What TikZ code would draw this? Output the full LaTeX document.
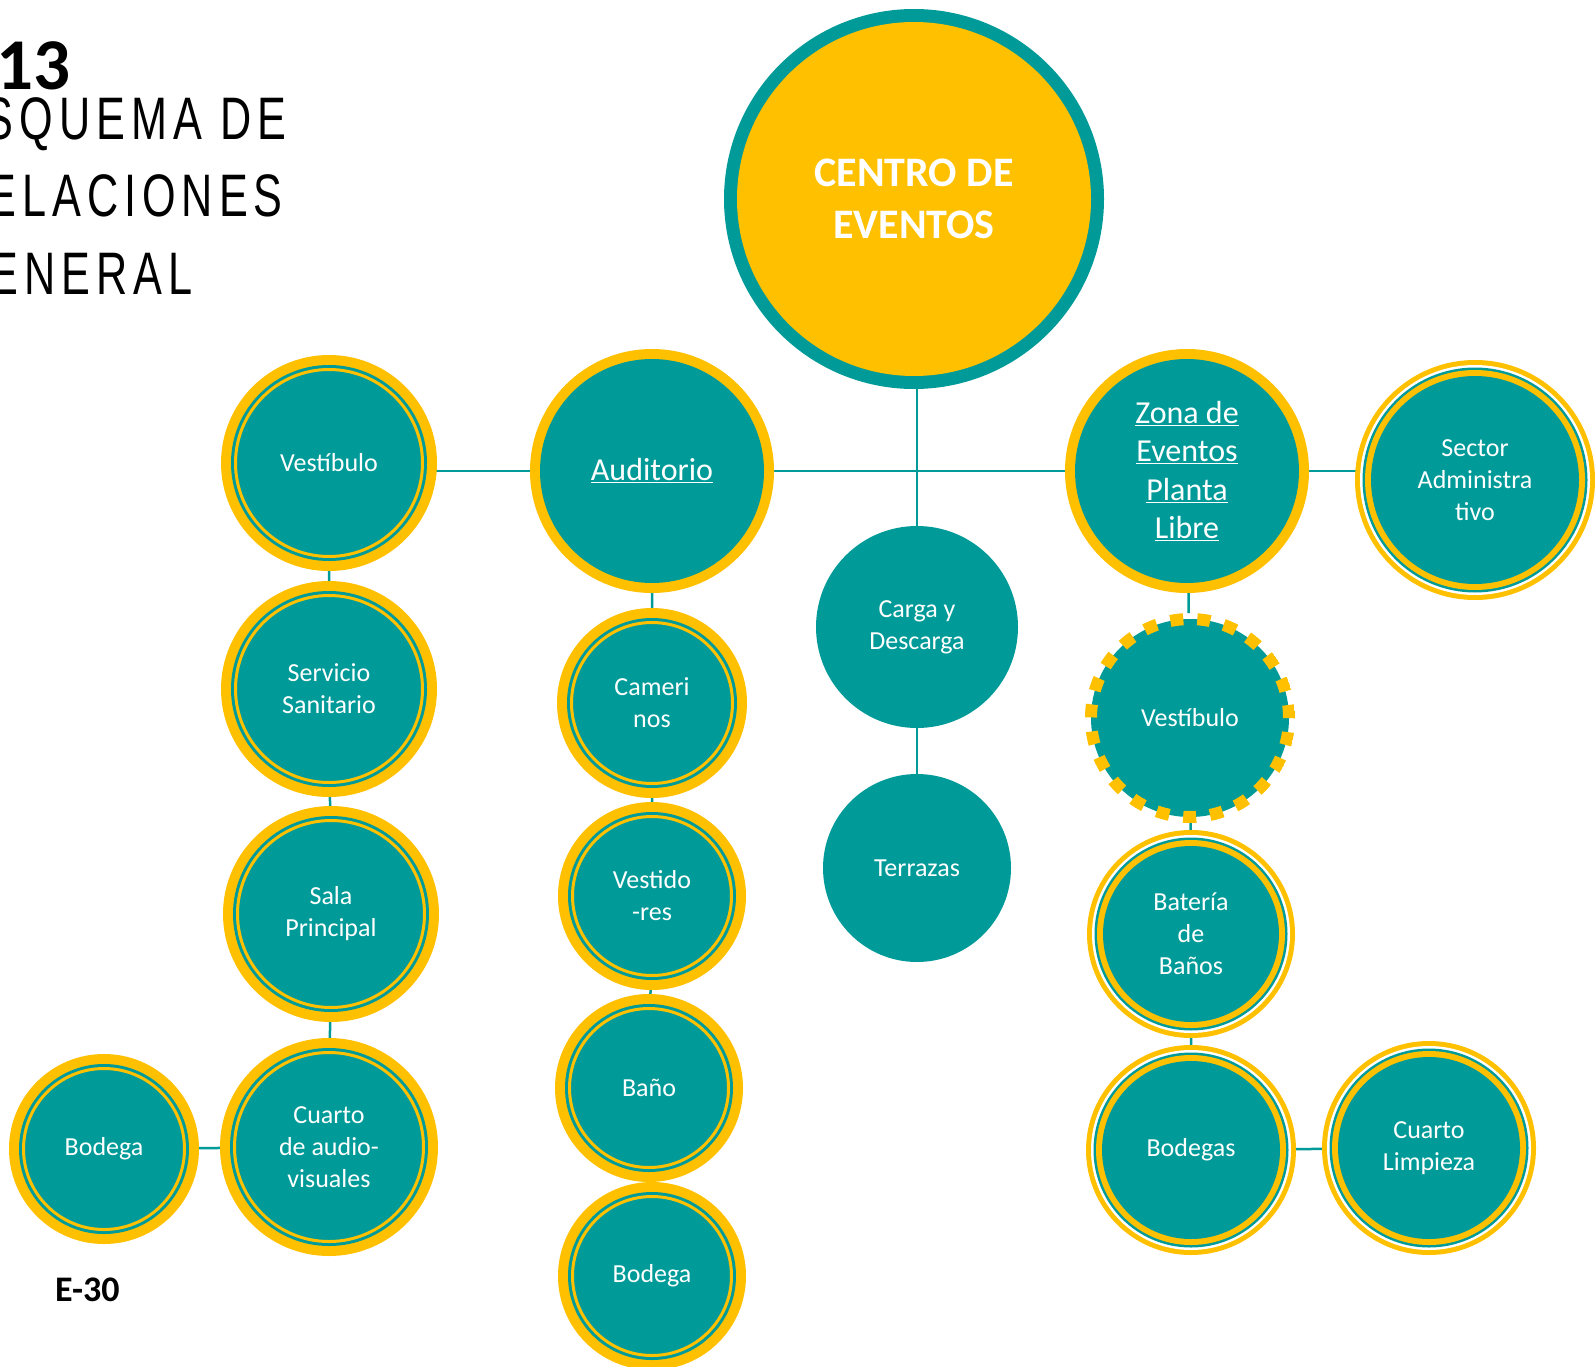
\documentclass[tikz,border=0pt]{standalone}
\usepackage{fontspec}
\setmainfont{Carlito}
\newfontfamily\titlefont[FakeStretch=0.72,LetterSpace=10]{Liberation Sans}
\usetikzlibrary{positioning, backgrounds}
\definecolor{tealc}{HTML}{009B98}
\definecolor{gold}{HTML}{FFC000}
\tikzset{
  lbl/.style={text=white, align=center, font=\fontsize{26}{32}\selectfont},
  disc/.style={circle, fill=tealc, minimum size={2*#1pt}, inner sep=0pt, outer sep=0pt, lbl},
  ringa/.style={disc=#1, fill=gold, path picture={
      \fill[tealc] (path picture bounding box.center) circle[radius=#1pt-10pt];
      \draw[gold, line width=3pt] (path picture bounding box.center) circle[radius=#1pt-14.5pt];}},
  ringb/.style={disc=#1, fill=gold, font=\fontsize{32}{38.4}\selectfont, path picture={
      \fill[tealc] (path picture bounding box.center) circle[radius=#1pt-10pt];}},
  ringc/.style={disc=#1, fill=gold, path picture={
      \fill[white] (path picture bounding box.center) circle[radius=#1pt-5pt];
      \fill[tealc] (path picture bounding box.center) circle[radius=#1pt-7.5pt];
      \fill[gold]  (path picture bounding box.center) circle[radius=#1pt-10pt];
      \fill[tealc] (path picture bounding box.center) circle[radius=#1pt-16pt];}},
  dashring/.style={disc=#1, fill=none, path picture={
      \fill[tealc] (path picture bounding box.center) circle[radius=#1pt-6pt];
      \draw[gold, line width=12pt, dash pattern=on 13pt off 14.04pt]
        (path picture bounding box.center) circle[radius=#1pt-6pt];}},
  hub/.style={disc=#1, font=\bfseries\fontsize{42}{52}\selectfont, path picture={
      \fill[gold] (path picture bounding box.center) circle[radius=#1pt-13pt];}},
  link/.style={draw=tealc, line width=2.5pt},
  ttl/.style={anchor=base west, inner sep=0pt, font=\titlefont\fontsize{60}{77}\selectfont},
}
\begin{document}
\begin{tikzpicture}[x=1pt, y=1pt]
  \useasboundingbox (0,0) rectangle (1595,-1367);
  % title
  \node[anchor=base west, inner sep=0pt, font=\bfseries\fontsize{73}{80}\selectfont] (num) at (-4,-90) {13};
  \node[ttl] (t1) at (-50,-140) {ESQUEMA DE};
  \node[ttl] (t2) at (-50,-217) {RELACIONES};
  \node[ttl] (t3) at (-50,-294) {GENERAL};
  \node[anchor=base west, inner sep=0pt, font=\bfseries\fontsize{36}{40}\selectfont] (lam) at (55,-1301) {E-30};

  \node[hub=190] (centro) at (914,-199) {CENTRO DE\\EVENTOS};
  \node[ringa=108] (vestl) at (329,-463) {Vestíbulo};
  \node[ringb=122] (aud)   at (652,-471) {\underline{Auditorio}};
  \node[ringb=122] (zona)  at (1187,-471) {\underline{Zona de}\\\underline{Eventos}\\\underline{Planta}\\\underline{Libre}};
  \node[ringc=120] (sect)  at (1475,-480) {Sector\\Administra\\tivo};
  \node[disc=101]  (carga) at (917,-627) {Carga y\\Descarga};
  \node[disc=94, below=46pt of carga] (terr) {Terrazas};

  % left column
  \node[ringa=108, below=10pt of vestl] (serv)   {Servicio\\Sanitario};
  \node[ringa=108, below=9pt of serv, xshift=2pt] (sala) {Sala\\Principal};
  \node[ringa=109, below=16pt of sala, xshift=-2pt] (cuarto) {Cuarto\\de audio-\\visuales};
  \node[ringa=95, left=21pt of cuarto, yshift=-2pt] (bodl) {Bodega};

  % auditorio column
  \node[ringa=95, below=15pt of aud]   (cam)   {Cameri\\nos};
  \node[ringa=94, below=4pt of cam]    (vestd) {Vestido\\-res};
  \node[ringa=94, below=4pt of vestd, xshift=-3pt] (bano) {Baño};
  \node[ringa=94, below=0pt of bano, xshift=3pt]   (bodb) {Bodega};

  % zona column
  \node[dashring=105, below=20pt of zona, xshift=3pt] (vestr) {Vestíbulo};
  \node[ringc=104, below=7pt of vestr, xshift=1pt]    (bat)   {Batería\\de\\Baños};
  \node[ringc=105, below=7pt of bat]      (bods)  {Bodegas};
  \node[ringc=107, right=26pt of bods, yshift=2pt] (limp) {Cuarto\\Limpieza};

  \begin{scope}[on background layer]
    \draw[link] (aud) -- (aud -| vestl);
    \draw[link] (aud) -- (zona);
    \draw[link] (zona) -- (zona -| sect);
    \draw[link] (carga) -- (carga |- centro);
    \draw[link] (carga) -- (terr);
    \draw[link] (vestl) -- (serv) -- (sala) -- (cuarto);
    \draw[link] (bodl) -- (cuarto);
    \draw[link] (aud) -- (cam) -- (vestd) -- (bano);
    \draw[link] (zona) -- (vestr) -- (bat) -- (bods);
    \draw[link] (bods) -- (limp);
  \end{scope}
\end{tikzpicture}
\end{document}
